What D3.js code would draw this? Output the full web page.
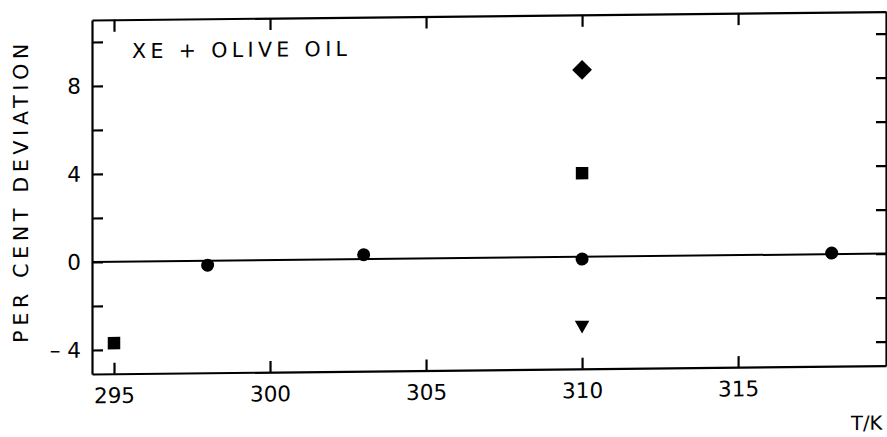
<!DOCTYPE html>
<html>
<head>
<meta charset="utf-8">
<script src="https://cdn.jsdelivr.net/npm/d3@7"></script>
<style>
  body { margin: 0; background: #fff; }
  svg { display: block; }
  text { font-family: "DejaVu Sans", sans-serif; fill: #000; }
  .axis path, .axis line { stroke: #000; stroke-width: 2.2; }
</style>
</head>
<body>
<svg id="chart"></svg>
<script>
// data
var circleT = [298, 303, 310, 318];
var circleDev = [-0.2, 0.2, -0.1, 0.05];
var squareT = [295, 310];
var squareDev = [-3.7, 3.8];
var diamondT = [310];
var diamondDev = [8.5];
var triangleT = [310];
var triangleDev = [-3.1];

var xTicks = [295, 300, 305, 310, 315];
var yTicks = [-4, -2, 0, 2, 4, 6, 8, 10];
var yLabelled = [-4, 0, 4, 8];

var viewWidth = 887, viewHeight = 437;
var margin = { top: 20, right: 1, bottom: 63, left: 92 };
var width = viewWidth - margin.left - margin.right;
var height = viewHeight - margin.top - margin.bottom;

var svg = d3.select("#chart")
    .attr("width", viewWidth)
    .attr("height", viewHeight);

// the scan is slightly tilted, so the whole figure is skewed a little
var chart = svg.append("g")
    .attr("transform", "translate(92,262) skewY(-0.61) translate(-92,-262) translate(" + margin.left + "," + margin.top + ")");

var x = d3.scaleLinear()
    .domain([294.295, 319.74])
    .range([0, width]);

var y = d3.scaleLinear()
    .domain([-5.09, 11])
    .range([height, 0]);

var fmtY = function (d) {
    if (yLabelled.indexOf(d) < 0) return "";
    return d < 0 ? "\u2013 " + Math.abs(d) : String(d);
};

chart.append("g")
    .attr("class", "axis")
    .call(d3.axisLeft(y).tickValues(yTicks).tickSizeInner(-11).tickSizeOuter(0).tickPadding(11).tickFormat(fmtY))
    .selectAll("text")
    .style("font-size", "21.5px")
    .attr("font-family", null);

chart.append("g")
    .attr("class", "axis")
    .attr("transform", "translate(" + width + ",0)")
    .call(d3.axisRight(y).tickValues(yTicks).tickSizeInner(-10).tickSizeOuter(0).tickFormat(""));

chart.append("g")
    .attr("class", "axis")
    .attr("transform", "translate(0," + height + ")")
    .call(d3.axisBottom(x).tickValues(xTicks).tickSizeInner(-11).tickSizeOuter(0).tickPadding(14).tickFormat(d3.format("d")))
    .selectAll("text")
    .style("font-size", "21.5px")
    .attr("font-family", null);

chart.append("g")
    .attr("class", "axis")
    .call(d3.axisTop(x).tickValues(xTicks).tickSizeInner(-12).tickSizeOuter(0).tickFormat(""));

chart.selectAll(".axis .domain").attr("fill", "none");

// zero line
chart.append("line")
    .attr("x1", x(294.295))
    .attr("x2", x(319.74))
    .attr("y1", y(0))
    .attr("y2", y(0))
    .attr("stroke", "#000")
    .attr("stroke-width", 2);

// markers
chart.selectAll(".circ")
    .data(circleT)
    .enter().append("circle")
    .attr("cx", function (d) { return x(d); })
    .attr("cy", function (d, i) { return y(circleDev[i]); })
    .attr("r", 6.5)
    .attr("fill", "#000");

chart.selectAll(".sq")
    .data(squareT)
    .enter().append("path")
    .attr("d", d3.symbol().type(d3.symbolSquare).size(156))
    .attr("transform", function (d, i) { return "translate(" + x(d) + "," + y(squareDev[i]) + ")"; })
    .attr("fill", "#000");

chart.selectAll(".dia")
    .data(diamondT)
    .enter().append("path")
    .attr("d", d3.symbol().type(d3.symbolSquare).size(196))
    .attr("transform", function (d, i) { return "translate(" + x(d) + "," + y(diamondDev[i]) + ") rotate(45)"; })
    .attr("fill", "#000");

chart.selectAll(".tri")
    .data(triangleT)
    .enter().append("path")
    .attr("d", d3.symbol().type(d3.symbolTriangle).size(92))
    .attr("transform", function (d, i) { return "translate(" + x(d) + "," + y(triangleDev[i]) + ") rotate(180)"; })
    .attr("fill", "#000");

// labels
chart.append("text")
    .attr("x", 40)
    .attr("y", 38.5)
    .attr("textLength", 215)
    .attr("lengthAdjust", "spacing")
    .style("font-size", "20.5px")
    .text("XE + OLIVE OIL");

chart.append("text")
    .attr("transform", "translate(-64," + (192.5 - margin.top) + ") rotate(-90)")
    .attr("text-anchor", "middle")
    .attr("textLength", 299)
    .attr("lengthAdjust", "spacing")
    .style("font-size", "20.5px")
    .text("PER CENT DEVIATION");

chart.append("text")
    .attr("x", 759)
    .attr("y", 418)
    .style("font-size", "19.5px")
    .text("T/K");
</script>
</body>
</html>
